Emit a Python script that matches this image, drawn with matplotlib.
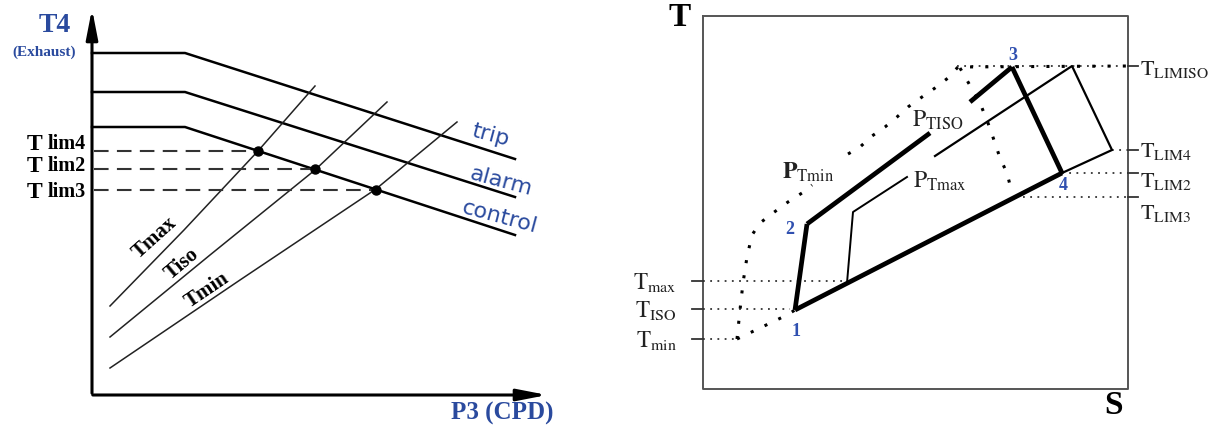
import matplotlib
matplotlib.use("Agg")
import matplotlib.pyplot as plt

plt.rcParams['mathtext.fontset'] = 'stix'
plt.rcParams['font.family'] = ['Liberation Serif', 'DejaVu Serif']

BLUE = '#2a4a9e'

# ---- left panel: T4 vs P3 (pixel coords) ----
trip_x, trip_y = [92, 185, 515], [53, 53, 159]
alarm_x, alarm_y = [92, 185, 515], [92, 92, 197]
control_x, control_y = [92, 185, 515], [127, 127, 235]

tmax_x, tmax_y = [110, 184, 258, 315], [306, 230, 151, 86]
tiso_x, tiso_y = [110, 210, 315, 387], [337, 255, 170, 102]
tmin_x, tmin_y = [110, 240, 376, 457], [368, 280, 189, 122]

lim_names = ['lim4', 'lim2', 'lim3']
lim_y = [151, 169, 190]
lim_dot_x = [258, 315, 376]
lim_label_y = [144, 166, 192]

# ---- right panel: T-S diagram ----
box_x = [703, 1128, 1128, 703, 703]
box_y = [16, 16, 389, 389, 16]

left_ticks = ['max', 'ISO', 'min']
left_tick_y = [281, 309, 339]
left_dot_end = [845, 790, 737]

right_ticks = ['LIMISO', 'LIM4', 'LIM2', 'LIM3']
right_tick_y = [66, 150, 173, 197]
right_dot_start = [957, 1112, 1062, 1023]
right_label_y = [70, 152, 181, 214]

# main (thick) cycle 1-2-3-4
c12_x, c12_y = [795, 807], [310, 224]
c2a_x, c2a_y = [807, 930], [224, 133]
c3b_x, c3b_y = [970, 1012], [102, 67]
c34_x, c34_y = [1012, 1062], [67, 173]
c41_x, c41_y = [1062, 795], [173, 310]

# thin cycle Tmax
tmx_x, tmx_y = [847, 853, 907], [283, 212, 177]
# thin outer cycle
tout_x, tout_y = [935, 1072, 1112, 1062], [156, 66, 150, 173]

# dotted Tmin cycle
pmin_a_x = [737, 740, 743, 747, 752, 760, 773, 788, 802, 812]
pmin_a_y = [339, 310, 283, 257, 235, 223, 213, 202, 193, 185]
pmin_b_x = [848, 860, 872, 885, 897, 908, 922, 935, 948, 958, 1128]
pmin_b_y = [154, 147, 136, 127, 117, 107, 97, 88, 78, 67, 66]
pmin_c_x = [960, 968, 980, 988, 995, 1000, 1007, 1010]
pmin_c_y = [68, 82, 103, 123, 143, 158, 173, 185]
pmin_d_x = [737, 760, 787, 795]
pmin_d_y = [339, 328, 315, 310]

pt_names = ['1', '2', '3', '4']
pt_x = [796, 790, 1013, 1063]
pt_y = [331, 230, 55, 186]

fig = plt.figure(figsize=(12.14, 4.30), dpi=100)
ax = fig.add_axes([0, 0, 1, 1])
ax.set_xlim(0, 1214)
ax.set_ylim(430, 0)
ax.axis('off')

# axes with arrows
ax.annotate('', xy=(92, 6), xytext=(92, 396),
            arrowprops=dict(arrowstyle='-|>,head_length=1.8,head_width=0.35', color='black', lw=2.2))
ax.annotate('', xy=(550, 395), xytext=(90, 395),
            arrowprops=dict(arrowstyle='-|>,head_length=1.8,head_width=0.35', color='black', lw=2.2))

for xs, ys in [(trip_x, trip_y), (alarm_x, alarm_y), (control_x, control_y)]:
    ax.plot(xs, ys, color='black', lw=1.8)
for xs, ys in [(tmax_x, tmax_y), (tiso_x, tiso_y), (tmin_x, tmin_y)]:
    ax.plot(xs, ys, color='#222222', lw=1.1)

for name, y, dx, ly in zip(lim_names, lim_y, lim_dot_x, lim_label_y):
    ax.plot([94, dx], [y, y], color='#333333', lw=1.5, dashes=(7, 4))
    ax.plot(dx, y, 'o', color='black', ms=6.5)
    ax.text(86, ly, name, ha='right', va='center', fontsize=14.5, fontweight='bold')
    ax.text(42, ly, 'T', ha='right', va='center', fontsize=17, fontweight='bold')

ax.text(55, 26, 'T4', ha='center', va='center', fontsize=20, fontweight='bold', color=BLUE)
ax.text(44, 52, '(Exhaust)', ha='center', va='center', fontsize=11, fontweight='bold', color=BLUE)
ax.text(502, 413, 'P3 (CPD)', ha='center', va='center', fontsize=18, fontweight='bold', color=BLUE)

for txt, x, y in [('trip', 490, 135), ('alarm', 501, 181), ('control', 500, 217)]:
    ax.text(x, y, txt, ha='center', va='center', fontsize=16, color=BLUE,
            family='DejaVu Sans', rotation=-15)

for txt, x, y, rot in [('Tmax', 155, 238, 42), ('Tiso', 182, 264, 40), ('Tmin', 207, 290, 34)]:
    ax.text(x, y, txt, ha='center', va='center', fontsize=15, fontweight='bold', rotation=rot)

# right panel
ax.plot(box_x, box_y, color='#555555', lw=1.4)
ax.text(680, 18, 'T', ha='center', va='center', fontsize=24, fontweight='bold')
ax.text(1113, 406, 'S', ha='center', va='center', fontsize=24, fontweight='bold')

for name, y, xe in zip(left_ticks, left_tick_y, left_dot_end):
    ax.plot([692, 703], [y, y], color='#333333', lw=1.3)
    ax.plot([703, xe], [y, y], color='#333333', lw=1.3, ls=(0, (1, 3)))
    ax.text(677, y + 2, r'$\mathrm{T_{%s}}$' % name, ha='right', va='center', fontsize=16.5, color='#222222')

for name, y, xs, ly in zip(right_ticks, right_tick_y, right_dot_start, right_label_y):
    ax.plot([1128, 1138], [y, y], color='#333333', lw=1.3)
    ax.plot([xs, 1128], [y, y], color='#333333', lw=1.3, ls=(0, (1, 3)))
    ax.text(1140, ly, r'$\mathrm{T_{%s}}$' % name, ha='left', va='center', fontsize=16, color='#222222')

for xs, ys in [(c12_x, c12_y), (c2a_x, c2a_y), (c3b_x, c3b_y), (c34_x, c34_y), (c41_x, c41_y)]:
    ax.plot(xs, ys, color='black', lw=3.4, solid_capstyle='butt')
ax.plot(tmx_x, tmx_y, color='black', lw=1.4)
ax.plot(tout_x, tout_y, color='black', lw=1.6)

for xs, ys in [(pmin_a_x, pmin_a_y), (pmin_b_x, pmin_b_y), (pmin_c_x, pmin_c_y), (pmin_d_x, pmin_d_y)]:
    ax.plot(xs, ys, color='black', lw=2.2, ls=(0, (1, 4)))

ax.text(808, 172, r'$\mathbf{P}_{\mathrm{Tmin}}$', ha='center', va='center', fontsize=17, color='#222222')
ax.text(938, 120, r'$\mathrm{P_{TISO}}$', ha='center', va='center', fontsize=17, color='#222222')
ax.text(940, 181, r'$\mathrm{P_{Tmax}}$', ha='center', va='center', fontsize=17, color='#222222')

for name, x, y in zip(pt_names, pt_x, pt_y):
    ax.text(x, y, name, ha='center', va='center', fontsize=13, fontweight='bold', color='#3050b0')

fig.savefig('out.png', dpi=100)
